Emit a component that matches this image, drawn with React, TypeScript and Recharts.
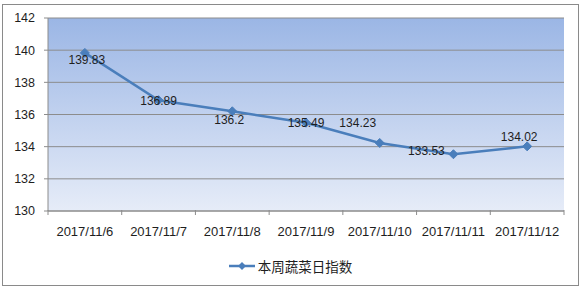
import { LineChart, Line, XAxis, YAxis, CartesianGrid, Legend, LabelList } from 'recharts';

const dates = ['2017/11/6', '2017/11/7', '2017/11/8', '2017/11/9', '2017/11/10', '2017/11/11', '2017/11/12'];
const indexValues = [139.83, 136.89, 136.2, 135.49, 134.23, 133.53, 134.02];
const yTicks = [130, 132, 134, 136, 138, 140, 142];
const seriesName = '本周蔬菜日指数';

// label nudges, Excel placed each one by hand
const labelNudge = [
  [2, 7], [0, 1], [-3, 9], [0, 0], [-22, -20], [-27, -3], [-8, -9],
];

const data = dates.map((d, i) => ({ date: d, value: indexValues[i] }));

const LINE = '#4a7ebb';
const AXIS = '#8c8c8c';
const TEXT = '#1e1e1e';
const FONT = '"Liberation Sans", Arial, sans-serif';
const PLOT_W = 516;

const Diamond = (props: any) => {
  const { cx, cy } = props;
  if (cx == null || cy == null) return null;
  const r = 4.5;
  return <path d={`M${cx},${cy - r}L${cx + r},${cy}L${cx},${cy + r}L${cx - r},${cy}Z`} fill={LINE} stroke={LINE} />;
};

const ValueLabel = (props: any) => {
  const { x, y, value, index } = props;
  const [dx, dy] = labelNudge[index] || [0, 0];
  return (
    <text x={x + dx} y={y + dy} textAnchor="middle" dominantBaseline="central" fill={TEXT} fontSize={12} fontFamily={FONT}>
      {value}
    </text>
  );
};

const DateTick = (props: any) => {
  const { x, y, payload, index } = props;
  const half = payload?.offset || PLOT_W / dates.length / 2;
  const top = y - 9;
  return (
    <g>
      <line x1={x - half} y1={top} x2={x - half} y2={top + 5} stroke={AXIS} />
      {index === dates.length - 1 && <line x1={x + half} y1={top} x2={x + half} y2={top + 5} stroke={AXIS} />}
      <text x={x} y={top + 21.5} textAnchor="middle" dominantBaseline="central" fill={TEXT} fontSize={13} fontFamily={FONT}>
        {payload.value}
      </text>
    </g>
  );
};

const LegendBox = () => (
  <div style={{ display: 'flex', justifyContent: 'center', alignItems: 'center', fontFamily: '"Noto Sans CJK SC", sans-serif', fontSize: 13.5, color: TEXT }}>
    <svg width={26} height={10} style={{ marginRight: 3 }}>
      <line x1={0} y1={5} x2={26} y2={5} stroke={LINE} strokeWidth={2.5} />
      <path d="M13,1L17,5L13,9L9,5Z" fill={LINE} />
    </svg>
    <span>{seriesName}</span>
  </div>
);

export default function App() {
  return (
    <div style={{ position: 'absolute', left: 0, top: 0, width: 581, height: 288, background: '#fff' }}>
      <div style={{ position: 'absolute', left: 2, top: 4, width: 575, height: 280, border: '1px solid #8a8a8a' }} />
      <LineChart width={581} height={288} data={data} margin={{ top: 18, right: 17, left: 8, bottom: 27 }}>
        <defs>
          <linearGradient id="plotBg" x1="0" y1="0" x2="0" y2="1">
            <stop offset="0%" stopColor="#9bb6e5" />
            <stop offset="100%" stopColor="#e6ecf8" />
          </linearGradient>
        </defs>
        <CartesianGrid vertical={false} stroke={AXIS} fill="url(#plotBg)" fillOpacity={1} />
        <XAxis
          dataKey="date"
          scale="band"
          height={30}
          axisLine={{ stroke: AXIS }}
          tickLine={false}
          interval={0}
          tick={<DateTick />}
        />
        <YAxis
          width={40}
          domain={[130, 142]}
          ticks={yTicks}
          interval={0}
          axisLine={{ stroke: AXIS }}
          tickLine={{ stroke: AXIS }}
          tickSize={4}
          tickMargin={9}
          tick={{ fill: TEXT, fontSize: 12.5, fontFamily: FONT }}
        />
        <Line
          dataKey="value"
          name={seriesName}
          stroke={LINE}
          strokeWidth={2.5}
          dot={<Diamond />}
          activeDot={false}
          isAnimationActive={false}
        >
          <LabelList dataKey="value" content={<ValueLabel />} />
        </Line>
        <Legend
          layout="vertical"
          align="center"
          verticalAlign="bottom"
          wrapperStyle={{ top: 256, left: 0, width: 581 }}
          content={<LegendBox />}
        />
      </LineChart>
    </div>
  );
}
